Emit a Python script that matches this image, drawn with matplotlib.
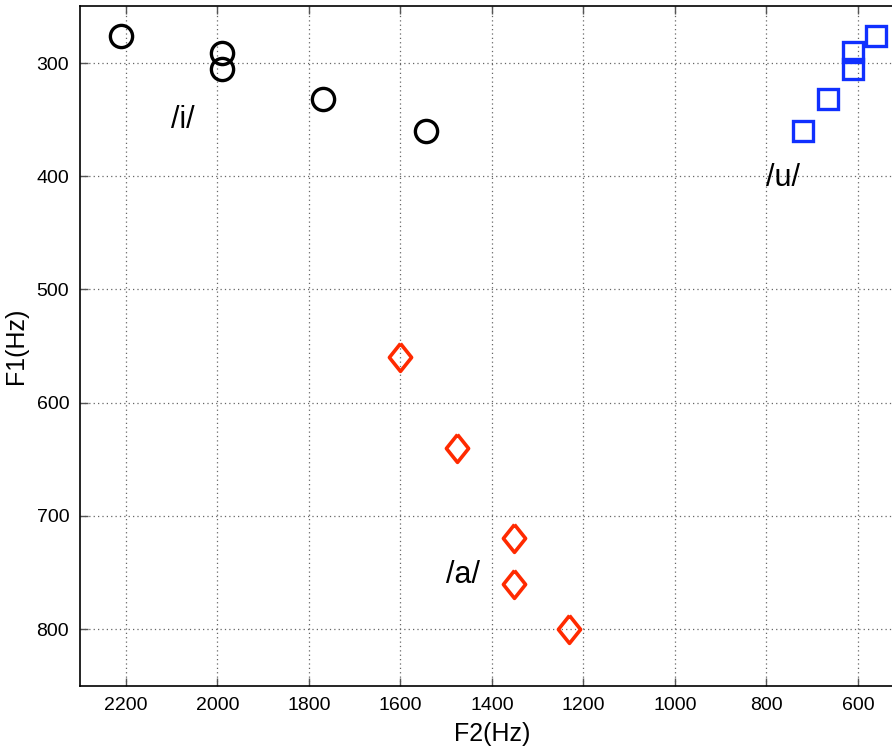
import numpy as np
import matplotlib
matplotlib.use('Agg')
import matplotlib.pyplot as plt

plt.rcParams['font.family'] = ['Liberation Sans', 'DejaVu Sans']

# /i/ vowel formants (F2, F1)
i_F2 = [2210, 1990, 1990, 1770, 1545]
i_F1 = [276, 291, 305, 332, 360]

# /u/
u_F2 = [560, 610, 610, 665, 720]
u_F1 = [276, 290, 305, 332, 360]

# /a/
a_F2 = [1600, 1477, 1352, 1352, 1232]
a_F1 = [560, 640, 720, 760, 800]

labels = ['/i/', '/u/', '/a/']
label_F2 = [2075, 764, 1463]
label_F1 = [350, 402, 752]

x_ticks = [600, 800, 1000, 1200, 1400, 1600, 1800, 2000, 2200]
y_ticks = [300, 400, 500, 600, 700, 800]

fig = plt.figure(figsize=(8.92, 7.53), dpi=100)
ax = fig.add_axes([0.09, 0.0895, 0.923, 0.902])

diamond = [(0, 1), (0.8, 0), (0, -1), (-0.8, 0), (0, 1)]

ax.plot(i_F2, i_F1, linestyle='none', marker='o', markersize=16,
        markerfacecolor='none', markeredgecolor='black', markeredgewidth=2.4)
ax.plot(u_F2, u_F1, linestyle='none', marker='s', markersize=14,
        markerfacecolor='none', markeredgecolor='#1030ff', markeredgewidth=2.4)
ax.plot(a_F2, a_F1, linestyle='none', marker=diamond, markersize=20,
        markerfacecolor='none', markeredgecolor='#ff2a00', markeredgewidth=2.6)

for lab, fx, fy in zip(labels, label_F2, label_F1):
    ax.text(fx, fy, lab, fontsize=22, ha='center', va='center')

ax.set_xlim(2300, 500)
ax.set_ylim(850, 250)
ax.set_xticks(x_ticks)
ax.set_yticks(y_ticks)
ax.tick_params(direction='in', top=True, right=True, labelsize=14,
               length=6, width=1, color='#555555', pad=8)
ax.grid(True, linestyle=(0, (1, 2.5)), color='#666666', linewidth=0.9)
for s in ax.spines.values():
    s.set_linewidth(1.2)

ax.set_xlabel('F2(Hz)', fontsize=18, labelpad=6)
ax.set_ylabel('F1(Hz)', fontsize=18, labelpad=6)

fig.savefig('out.png', dpi=100)
